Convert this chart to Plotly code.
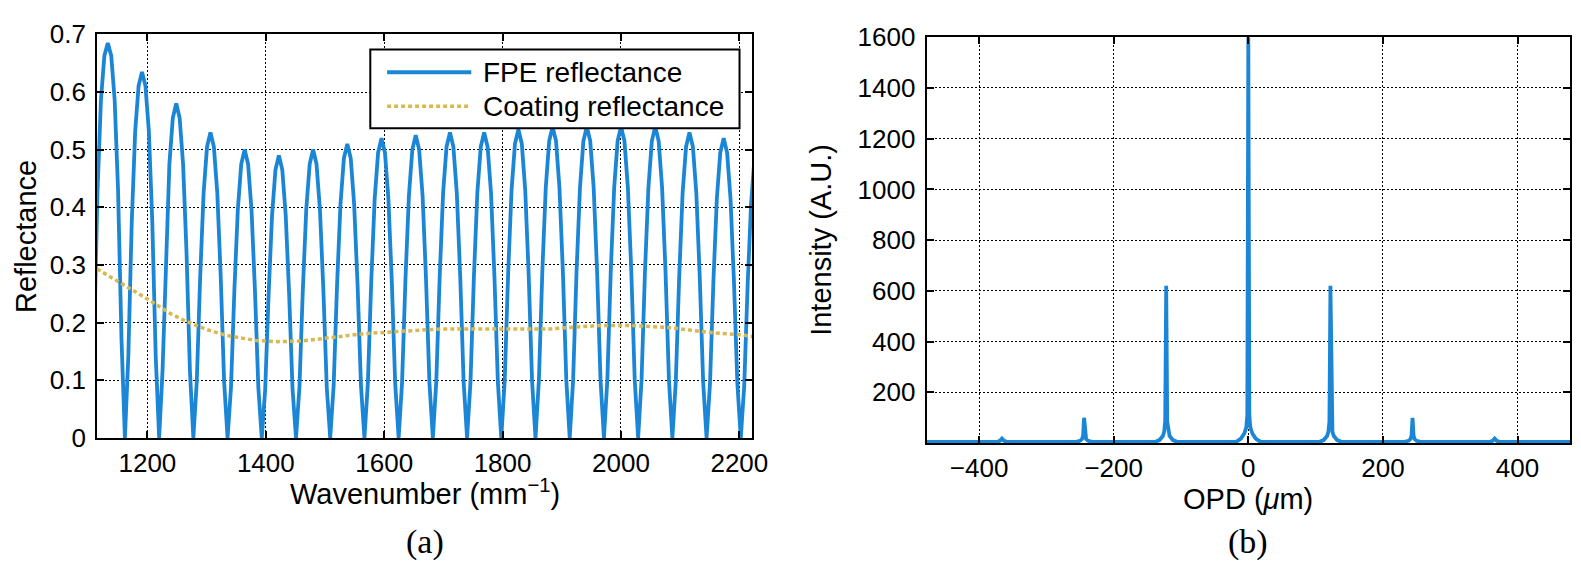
import numpy as np
import plotly.graph_objects as go

W, H = 1581, 569

# ---------------- Panel (a): reflectance vs wavenumber ----------------
WN_START = 1109.98      # first sample wavenumber (mm^-1)
WN_STEP = 5.78          # sampling step (mm^-1)
FPE_REFLECTANCE = [
    0.172, 0.429, 0.587, 0.663, 0.685, 0.663, 0.587, 0.429, 0.172,
    0, 0.142, 0.375, 0.532, 0.611, 0.635, 0.611, 0.532, 0.375, 0.142,
    0, 0.117, 0.323, 0.475, 0.555, 0.580, 0.555, 0.475, 0.323, 0.117,
    0, 0.097, 0.280, 0.425, 0.505, 0.530, 0.505, 0.425, 0.280, 0.097,
    0, 0.087, 0.257, 0.396, 0.475, 0.500, 0.475, 0.396, 0.257, 0.087,
    0, 0.084, 0.249, 0.386, 0.465, 0.490, 0.465, 0.386, 0.249, 0.084,
    0, 0.087, 0.257, 0.396, 0.475, 0.500, 0.475, 0.396, 0.257, 0.087,
    0, 0.090, 0.265, 0.405, 0.485, 0.510, 0.485, 0.405, 0.265, 0.090,
    0, 0.094, 0.272, 0.415, 0.495, 0.520, 0.495, 0.415, 0.272, 0.094,
    0, 0.096, 0.276, 0.420, 0.500, 0.525, 0.500, 0.420, 0.276, 0.096,
    0, 0.097, 0.280, 0.425, 0.505, 0.530, 0.505, 0.425, 0.280, 0.097,
    0, 0.097, 0.280, 0.425, 0.505, 0.530, 0.505, 0.425, 0.280, 0.097,
    0, 0.099, 0.284, 0.430, 0.510, 0.535, 0.510, 0.430, 0.284, 0.099,
    0, 0.101, 0.289, 0.434, 0.515, 0.540, 0.515, 0.434, 0.289, 0.101,
    0, 0.101, 0.289, 0.434, 0.515, 0.540, 0.515, 0.434, 0.289, 0.101,
    0, 0.101, 0.289, 0.434, 0.515, 0.540, 0.515, 0.434, 0.289, 0.101,
    0, 0.101, 0.289, 0.434, 0.515, 0.540, 0.515, 0.434, 0.289, 0.101,
    0, 0.097, 0.280, 0.425, 0.505, 0.530, 0.505, 0.425, 0.280, 0.097,
    0, 0.094, 0.272, 0.415, 0.495, 0.520, 0.495, 0.415, 0.272, 0.094,
    0, 0.090, 0.265, 0.405, 0.485,
]
COAT_WN = [1115, 1150, 1200, 1240, 1266, 1300, 1333, 1383, 1420, 1461, 1500,
           1567, 1600, 1696, 1768, 1880, 1907, 1964, 2019, 2086, 2124, 2158,
           2203, 2222]
COAT_R = [0.293, 0.272, 0.241, 0.215, 0.202, 0.188, 0.178, 0.169, 0.167, 0.168,
          0.173, 0.181, 0.183, 0.189, 0.189, 0.189, 0.191, 0.195, 0.195, 0.191,
          0.186, 0.182, 0.179, 0.176]
XTICKS_A = [1200, 1400, 1600, 1800, 2000, 2200]
YTICKS_A = [0, 0.1, 0.2, 0.3, 0.4, 0.5, 0.6, 0.7]
YTICKTEXT_A = ["0", "0.1", "0.2", "0.3", "0.4", "0.5", "0.6", "0.7"]

# ---------------- Panel (b): intensity vs OPD ----------------
OPD_UM = [-478,
          -373, -369, -366, -363, -359,
          -256, -250, -247, -245.5, -244, -242.5, -241, -238, -232,
          -138, -132, -127, -125, -123.5, -122, -120.5, -119, -117, -112, -106,
          -18, -11, -6, -3, -1.5, 0, 1.5, 3, 6, 11, 18,
          106, 112, 117, 119, 120.5, 122, 123.5, 125, 127, 132, 138,
          232, 238, 241, 242.5, 244, 245.5, 247, 250, 256,
          359, 363, 366, 369, 373,
          478]
INTENSITY = [5,
             5, 9, 18, 9, 5,
             5, 9, 16, 30, 100, 30, 16, 9, 5,
             5, 12, 28, 45, 85, 620, 85, 45, 28, 12, 5,
             5, 18, 38, 62, 110, 1600, 110, 62, 38, 18, 5,
             5, 12, 28, 45, 85, 620, 85, 45, 28, 12, 5,
             5, 9, 16, 30, 100, 30, 16, 9, 5,
             5, 9, 18, 9, 5,
             5]
XTICKS_B = [-400, -200, 0, 200, 400]
XTICKTEXT_B = ["\u2212400", "\u2212200", "0", "200", "400"]
YTICKS_B = [200, 400, 600, 800, 1000, 1200, 1400, 1600]
YTICKTEXT_B = ["200", "400", "600", "800", "1000", "1200", "1400", "1600"]

BLUE = "#1C86D6"
GOLD = "#D8B850"
FONT = "Liberation Sans"
TICKSIZE = 26
LEGSIZE = 28
TITLESIZE = 29


def px(x):
    return x / W


def py(y):
    return 1 - y / H


fpe_wn = WN_START + WN_STEP * np.arange(len(FPE_REFLECTANCE))

fig = go.Figure()
fig.add_trace(go.Scatter(x=fpe_wn, y=FPE_REFLECTANCE, mode="lines",
                         line=dict(color=BLUE, width=3.8), name="FPE reflectance",
                         xaxis="x", yaxis="y", showlegend=False))
fig.add_trace(go.Scatter(x=COAT_WN, y=COAT_R, mode="lines",
                         line=dict(color=GOLD, width=3.5, dash="4px,3px"),
                         name="Coating reflectance", xaxis="x", yaxis="y",
                         showlegend=False))
fig.add_trace(go.Scatter(x=OPD_UM, y=INTENSITY, mode="lines",
                         line=dict(color=BLUE, width=3.8), name="Intensity",
                         xaxis="x2", yaxis="y2", showlegend=False))

axis_common = dict(showline=True, linecolor="black", linewidth=2, mirror="ticks",
                   ticks="inside", ticklen=7, tickwidth=1.5, tickcolor="black",
                   showgrid=True, gridcolor="black", gridwidth=1, griddash="2px,2px",
                   zeroline=False, tickfont=dict(family=FONT, size=TICKSIZE, color="black"))

A_L, A_R, A_T, A_B = 90, 752, 12, 438
B_L, B_R, B_T, B_B = 928, 1578, 15, 443.5

fig.update_layout(
    width=W, height=H, margin=dict(l=0, r=0, t=0, b=0),
    paper_bgcolor="white", plot_bgcolor="white",
    xaxis=dict(domain=[px(A_L), px(A_R)], range=[1115, 2222], anchor="y",
               tickvals=XTICKS_A, ticklabelstandoff=1, **axis_common),
    yaxis=dict(domain=[py(A_B), py(A_T)], range=[0, 0.7], anchor="x",
               tickvals=YTICKS_A, ticktext=YTICKTEXT_A, ticklabelstandoff=4, **axis_common),
    xaxis2=dict(domain=[px(B_L), px(B_R)], range=[-478, 478], anchor="y2",
                tickvals=XTICKS_B, ticktext=XTICKTEXT_B, ticklabelstandoff=1, **axis_common),
    yaxis2=dict(domain=[py(B_B), py(B_T)], range=[0, 1600], anchor="x2",
                tickvals=YTICKS_B, ticktext=YTICKTEXT_B, ticklabelstandoff=4, **axis_common),
)

# Legend drawn as box + samples + text (panel a)
LX0, LX1, LY0, LY1 = 366, 739, 28, 111
shapes = [
    dict(type="rect", xref="paper", yref="paper", x0=px(LX0), x1=px(LX1),
         y0=py(LY1), y1=py(LY0), line=dict(color="black", width=2),
         fillcolor="white", layer="above"),
    dict(type="line", xref="paper", yref="paper", x0=px(383), x1=px(468),
         y0=py(52), y1=py(52), line=dict(color=BLUE, width=3.8), layer="above"),
    dict(type="line", xref="paper", yref="paper", x0=px(383), x1=px(468),
         y0=py(88), y1=py(88), line=dict(color=GOLD, width=3.5, dash="4px,3px"),
         layer="above"),
]
fig.update_layout(shapes=shapes)

ann = []


def text(x, y, s, size=TICKSIZE, family=FONT, angle=0, xanchor="center"):
    ann.append(dict(x=px(x), y=py(y), xref="paper", yref="paper", text=s,
                    showarrow=False, textangle=angle, xanchor=xanchor,
                    yanchor="middle", font=dict(family=family, size=size, color="black")))


text(478, 52, "FPE reflectance", size=LEGSIZE, xanchor="left")
text(478, 88, "Coating reflectance", size=LEGSIZE, xanchor="left")
text((A_L + A_R) / 2, 495, "Wavenumber (mm<sup>\u22121</sup>)", size=TITLESIZE)
text((B_L + B_R) / 2, 502, "OPD (<i>\u03bc</i>m)", size=TITLESIZE)
text(18, (A_T + A_B) / 2, "Reflectance", size=TITLESIZE, angle=-90)
text(821, (B_T + B_B) / 2, "Intensity (A.U.)", size=TITLESIZE, angle=-90)
text((A_L + A_R) / 2, 548, "(a)", size=34, family="Liberation Serif")
text((B_L + B_R) / 2, 548, "(b)", size=34, family="Liberation Serif")
fig.update_layout(annotations=ann)

fig.write_html("out.html")
